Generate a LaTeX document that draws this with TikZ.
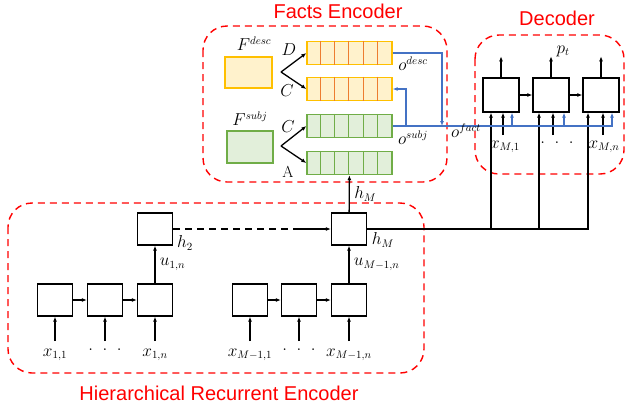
\documentclass[tikz,border=0pt]{standalone}
\usepackage{fontspec}
\newfontfamily\titlefont{Liberation Sans}
\usetikzlibrary{arrows.meta}
\definecolor{dashred}{RGB}{255,0,0}
\definecolor{linkblue}{RGB}{68,114,196}
\definecolor{descfill}{RGB}{255,242,204}
\definecolor{descline}{RGB}{255,192,0}
\definecolor{descsep}{RGB}{237,125,49}
\definecolor{subjfill}{RGB}{226,239,218}
\definecolor{subjline}{RGB}{112,173,71}
\tikzset{
  group/.style={draw=dashred,line width=1.4pt,dash pattern=on 7pt off 5pt,rounded corners=24pt},
  grouptitle/.style={text=dashred,font=\titlefont\fontsize{20}{22}\selectfont},
  encbox/.style={draw,line width=1.3pt,minimum width=35pt,minimum height=32pt,inner sep=0pt},
  decbox/.style={draw,line width=1.3pt,minimum width=36pt,minimum height=34pt,inner sep=0pt},
  descbar/.style={draw=descline,fill=descfill,line width=1.3pt,minimum width=85pt,minimum height=23pt,inner sep=0pt},
  subjbar/.style={draw=subjline,fill=subjfill,line width=1.3pt,minimum width=85pt,minimum height=23pt,inner sep=0pt},
  link/.style={draw=linkblue,line width=1.3pt}
}
\begin{document}
\begin{tikzpicture}[x=1pt,y=-1pt,>={Latex[length=5pt,width=4pt]},line width=1.3pt,font=\fontsize{16}{18}\selectfont]
  \useasboundingbox (0,0) rectangle (626,408);
  % dashed groups and titles
  \draw[group] (203,26) rectangle (447,182);
  \node[grouptitle] (tfacts) at (338,11) {Facts Encoder};
  \draw[group] (475,35) rectangle (624,174);
  \node[grouptitle] (tdec) at (557,18) {Decoder};
  \draw[group] (8,203) rectangle (424,373);
  \node[grouptitle] (tenc) at (219,393) {Hierarchical Recurrent Encoder};
  % hierarchical encoder
  \foreach \n/\x/\t in {e11/55/{x_{1,1}},e13/155/{x_{1,n}},e21/250/{x_{M-1,1}},e23/349/{x_{M-1,n}},e12/105/{},e22/299/{}}{
    \node[encbox] (\n) at (\x,300) {};
    \coordinate (in\n) at (\x,341);
    \draw[->] (in\n) -- (\n);
    \node (lab\n) at (\x,355) {$\t$};
  }
  \node (dotsa) at (105,350) {$.\;\;.\;\;.$};
  \node (dotsb) at (299,350) {$.\;\;.\;\;.$};
  \draw[->] (e11) -- (e12);\draw[->] (e12) -- (e13);
  \draw[->] (e21) -- (e22);\draw[->] (e22) -- (e23);
  \node[encbox] (h2) at (155,229) {};
  \node[encbox] (hM) at (349,229) {};
  \draw[->] (e13) -- (h2) node[midway,right=1pt] {$u_{1,n}$};
  \draw[->] (e23) -- (hM) node[midway,right=1pt] {$u_{M-1,n}$};
  \coordinate (dashend) at (300,229);
  \draw[dash pattern=on 7pt off 5pt] (h2) -- (dashend);\draw[->] (dashend) -- (hM);
  \node (lh2) at (185,243) {$h_2$};
  \node (lhM) at (383,240) {$h_M$};
  % facts encoder
  \node[descbar] (desc1) at (349.5,53) {};
  \node[descbar] (desc2) at (349.5,89) {};
  \node[subjbar] (subj1) at (349.5,126) {};
  \node[subjbar] (subj2) at (349.5,163) {};
  \foreach \k in {1,...,5}{
    \draw[descsep,line width=.8pt] ([xshift=\k*14.17pt]desc1.north west) -- ([xshift=\k*14.17pt]desc1.south west);
    \draw[descsep,line width=.8pt] ([xshift=\k*14.17pt]desc2.north west) -- ([xshift=\k*14.17pt]desc2.south west);
    \draw[subjline,line width=.8pt] ([xshift=\k*14.17pt]subj1.north west) -- ([xshift=\k*14.17pt]subj1.south west);
    \draw[subjline,line width=.8pt] ([xshift=\k*14.17pt]subj2.north west) -- ([xshift=\k*14.17pt]subj2.south west);
  }
  \node[draw=descline,fill=descfill,minimum width=47pt,minimum height=31pt] (fdesc) at (248.5,72.5) {};
  \node[draw=subjline,fill=subjfill,minimum width=46pt,minimum height=32pt] (fsubj) at (250,147) {};
  \node (lfdesc) at (254,44) {$F^{desc}$};
  \node (lfsubj) at (250,119) {$F^{subj}$};
  \coordinate (fk1) at (281,72);\coordinate (fk2) at (281,146);
  \draw[->] (fk1) -- (desc1.west);\draw[->] (fk1) -- (desc2.west);
  \draw[->] (fk2) -- (subj1.west);\draw[->] (fk2) -- (subj2.west);
  \node (ld) at (289,50) {$D$};
  \node (lc1) at (287,91) {$C$};
  \node (lc2) at (288,127) {$C$};
  \node (la) at (288,172) {A};
  \draw[->] (hM) -- (subj2) node[midway,right=1pt] {$h_M$};
  % decoder
  \node[decbox] (d1) at (501,95) {};
  \node[decbox] (d2) at (551,95) {};
  \node[decbox] (d3) at (601,95) {};
  \draw[->] (d1) -- (d2);\draw[->] (d2) -- (d3);
  \foreach \n in {1,2,3}{
    \coordinate (out\n) at ([yshift=21pt]d\n.north);
    \draw[->] (d\n.north) -- (out\n);
    \coordinate (xs\n) at ([xshift=2pt]d\n.south |- 0,135);
    \draw[->] (xs\n) -- ([xshift=2pt]d\n.south);
  }
  \node (lpt) at (563,51) {$p_t$};
  \node (lxm1) at (505,147) {$x_{M,1}$};
  \node (ldots) at (557,143) {$.\;\;.\;\;.$};
  \node (lxmn) at (604,147) {$x_{M,n}$};
  \coordinate (t1) at ([xshift=-10pt]d1.south);
  \coordinate (t2) at ([xshift=-12pt]d2.south);
  \coordinate (t3) at ([xshift=-13pt]d3.south);
  \draw[->] (hM.east) -| (t3);
  \draw[->] (hM.east -| t1) -- (t1);
  \draw[->] (hM.east -| t2) -- (t2);
  % fact vectors
  \coordinate (b1) at ([xshift=11pt]d1.south);
  \coordinate (b2) at ([xshift=13pt]d2.south);
  \coordinate (b3) at ([xshift=11pt]d3.south);
  \draw[link,->] (subj1.east) -| (b3);
  \draw[link,->] (subj1.east -| b1) -- (b1);
  \draw[link,->] (subj1.east -| b2) -- (b2);
  \coordinate (dsc) at (442,53);
  \draw[link,->] (desc1.east) -- (dsc) -- (dsc |- subj1.east);
  \coordinate (sbj) at (406,126);
  \draw[link,->] (sbj) |- (desc2.east);
  \node (lodesc) at (413,64) {$o^{desc}$};
  \node (losubj) at (413,138) {$o^{subj}$};
  \node (lofact) at (466,131) {$o^{fact}$};
\end{tikzpicture}
\end{document}
